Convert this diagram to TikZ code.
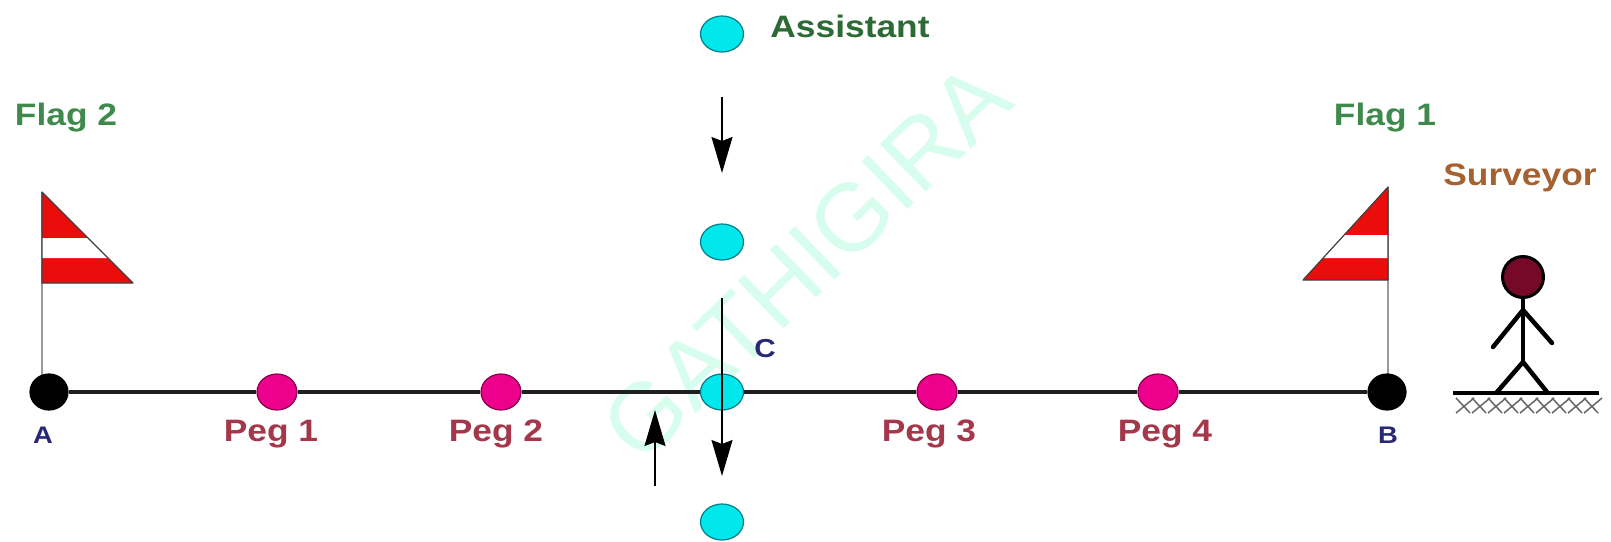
\documentclass[tikz,border=0pt]{standalone}
\usepackage{fontspec}
\setmainfont{Liberation Sans}[FakeStretch=1.14]
\newfontfamily\markfont{Liberation Sans}
\usetikzlibrary{arrows.meta,shapes.geometric}

\definecolor{flagRed}{RGB}{235,12,12}
\definecolor{pegPink}{RGB}{236,0,140}
\definecolor{pegEdge}{RGB}{140,0,75}
\definecolor{mateCyan}{RGB}{0,232,236}
\definecolor{mateEdge}{RGB}{0,125,135}
\definecolor{headRed}{RGB}{118,8,40}
\definecolor{flagGreen}{RGB}{62,138,76}
\definecolor{mateGreen}{RGB}{44,108,52}
\definecolor{pegText}{RGB}{165,55,75}
\definecolor{pointBlue}{RGB}{40,40,118}
\definecolor{manBrown}{RGB}{165,98,48}
\definecolor{markMint}{RGB}{214,253,238}

\begin{document}
\begin{tikzpicture}
[x=1pt,y=-1pt,
  lineDecorate/.style={-,line width=4.5pt,draw=black!88},%
  poleDecorate/.style={-,line width=1.6pt,draw=black!40},%
  arrowDecorate/.style={-{Stealth[length=36pt,width=21pt,inset=4pt]},line width=1.8pt},%
  flagDecorate/.style={draw=black!75,line width=1.2pt,line join=round},%
  manDecorate/.style={line width=4.5pt,line cap=round},%
  hatchDecorate/.style={line width=1.5pt,draw=black!60},%
  dotDecorate/.style={shape=ellipse,inner sep=0pt,line width=1.2pt},%
  endDot/.style={dotDecorate,fill=black,draw=black,minimum width=38pt,minimum height=36pt},%
  pegDot/.style={dotDecorate,fill=pegPink,draw=pegEdge,minimum width=40pt,minimum height=36pt},%
  mateDot/.style={dotDecorate,fill=mateCyan,draw=mateEdge,minimum width=43pt,minimum height=36pt},%
  textDecorate/.style={anchor=base,inner sep=0pt,font=\bfseries\fontsize{31}{33}\selectfont},%
  pointText/.style={textDecorate,text=pointBlue,font=\bfseries\fontsize{24}{26}\selectfont}]
\useasboundingbox (0,0) rectangle (1611,541);

%% watermark behind everything
\node[text=markMint,font=\markfont\fontsize{96}{96}\selectfont,rotate=44] (mark) at (806,262) {GATHIGIRA};

%% flag 2 at A
\draw[poleDecorate] (42,192) -- (42,392);
\fill[flagRed] (42,192) -- (133,283) -- (42,283) -- cycle;
\fill[white] (42,238) -- (88,238) -- (108,258) -- (42,258) -- cycle;
\draw[flagDecorate] (42,192) -- (133,283) -- (42,283) -- cycle;

%% flag 1 at B
\draw[poleDecorate] (1388,187) -- (1388,392);
\fill[flagRed] (1388,187) -- (1303,280) -- (1388,280) -- cycle;
\fill[white] (1388,235) -- (1344,235) -- (1323,258) -- (1388,258) -- cycle;
\draw[flagDecorate] (1388,187) -- (1303,280) -- (1388,280) -- cycle;

%% nodes on the chain line
\node (A) at (49,392) [endDot] {};
\node (B) at (1387,392) [endDot] {};
\node (peg1) at (277,392) [pegDot] {};
\node (peg2) at (501,392) [pegDot] {};
\node (peg3) at (937,392) [pegDot] {};
\node (peg4) at (1158,392) [pegDot] {};
\node (C) at (722,392) [mateDot] {};
\draw[lineDecorate] (A) -- (peg1) -- (peg2) -- (C) -- (peg3) -- (peg4) -- (B);

%% assistant positions
\node (mate1) at (722,34) [mateDot] {};
\node (mate2) at (722,242) [mateDot] {};
\node (mate3) at (722,522) [mateDot] {};

%% stub coordinates for the arrows
\coordinate (drop1) at (722,97);
\coordinate (drop2) at (722,173);
\coordinate (pass1) at (722,298);
\coordinate (pass2) at (722,476);
\coordinate (rise1) at (655,486);
\coordinate (rise2) at (655,410);
\draw[arrowDecorate] (drop1) -- (drop2);
\draw[arrowDecorate] (pass1) -- (pass2);
\draw[arrowDecorate] (rise1) -- (rise2);

%% labels
\node[textDecorate,text=flagGreen] (flag2) at (66,125) {Flag 2};
\node[textDecorate,text=flagGreen] (flag1) at (1385,125) {Flag 1};
\node[textDecorate,text=mateGreen] (mate) at (850,37) {Assistant};
\node[textDecorate,text=manBrown] (man) at (1520,185) {Surveyor};
\node[textDecorate,text=pegText] (lbl1) at (271,441) {Peg 1};
\node[textDecorate,text=pegText] (lbl2) at (496,441) {Peg 2};
\node[textDecorate,text=pegText] (lbl3) at (929,441) {Peg 3};
\node[textDecorate,text=pegText] (lbl4) at (1165,441) {Peg 4};
\node[pointText] (lblA) at (43,443) {A};
\node[pointText] (lblB) at (1388,443) {B};
\node[pointText,font=\bfseries\fontsize{26}{28}\selectfont] (lblC) at (765,357) {C};

%% surveyor
\coordinate (neck) at (1523,297);
\coordinate (hip) at (1523,362);
\coordinate (shoulder) at (1523,310);
\draw[manDecorate] (neck) -- (hip);
\draw[manDecorate] (1493,347) -- (shoulder) -- (1552,343);
\draw[manDecorate] (1497,392) -- (hip) -- (1547,392);
\node (head) at (1523,277) [circle,inner sep=0pt,minimum size=41pt,fill=headRed,draw=black,line width=3pt] {};
\draw[line width=3.5pt] (1453,393) -- (1599,393);
\foreach \k in {0,...,8} {
  \draw[hatchDecorate] (1456+16*\k,413) -- (1474+16*\k,398);
  \draw[hatchDecorate] (1456+16*\k,398) -- (1470+16*\k,413);
}
\end{tikzpicture}
\end{document}
